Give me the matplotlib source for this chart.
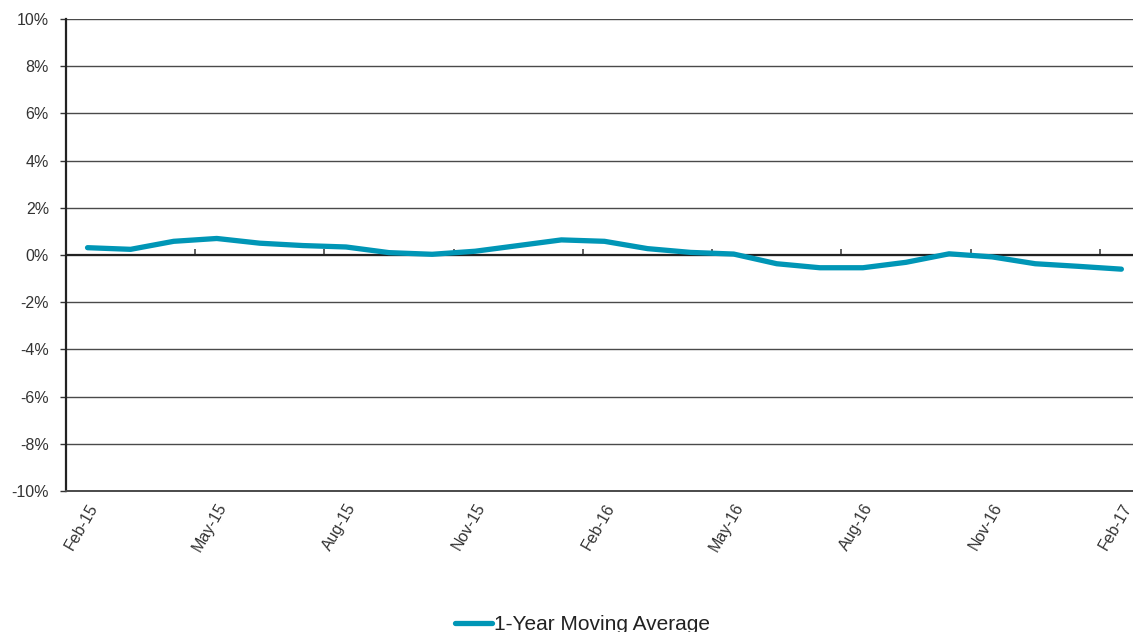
import matplotlib.pyplot as plt
from matplotlib.ticker import FuncFormatter

# monthly 1-year moving average, Feb-15 .. Feb-17 (percent)
months = ["Feb-15", "Mar-15", "Apr-15", "May-15", "Jun-15", "Jul-15", "Aug-15",
          "Sep-15", "Oct-15", "Nov-15", "Dec-15", "Jan-16", "Feb-16", "Mar-16",
          "Apr-16", "May-16", "Jun-16", "Jul-16", "Aug-16", "Sep-16", "Oct-16",
          "Nov-16", "Dec-16", "Jan-17", "Feb-17"]
moving_avg = [0.31, 0.24, 0.58, 0.70, 0.50, 0.40, 0.34, 0.10, 0.03, 0.16, 0.40,
              0.64, 0.58, 0.27, 0.11, 0.04, -0.37, -0.54, -0.54, -0.31, 0.05,
              -0.08, -0.37, -0.48, -0.60]
y_ticks = [-10, -8, -6, -4, -2, 0, 2, 4, 6, 8, 10]

plt.rcParams['font.family'] = ['Liberation Sans', 'DejaVu Sans']

fig = plt.figure(figsize=(11.33, 6.32), dpi=100)
ax = fig.add_axes([66 / 1133, 141 / 632, 1067 / 1133, 472 / 632])

x = list(range(len(months)))
ax.plot(x, moving_avg, color="#0096b6", linewidth=3.8, solid_capstyle="round",
        label="1-Year Moving Average", zorder=3)

ax.set_ylim(-10, 10)
ax.set_xlim(-0.5, 24.27)
ax.set_yticks(y_ticks)
ax.yaxis.set_major_formatter(FuncFormatter(lambda v, p: f"{v:.0f}%"))
for v in y_ticks:
    if v == 0:
        ax.axhline(v, color="#222222", linewidth=1.6, zorder=2)
    else:
        ax.axhline(v, color="#4a4a4a", linewidth=1.0, zorder=1)

# category labels every quarter, rotated
ax.set_xticks(x[::3])
ax.set_xticklabels(months[::3], rotation=60, ha="right", va="top",
                   rotation_mode="anchor", fontsize=11.5, color="#333333")
ax.tick_params(axis="x", length=0, pad=7)
ax.tick_params(axis="y", length=4.3, width=1, color="#333333", pad=8,
               labelsize=11.5, labelcolor="#333333")

# tick marks between categories on the zero line
zero_axis = ax.secondary_xaxis(0.5)
zero_axis.set_xticks([i + 2.5 for i in range(0, 24, 3)])
zero_axis.set_xticklabels([])
zero_axis.tick_params(length=4, width=1.2, color="#444444", direction="out")
zero_axis.spines["bottom"].set_visible(False)

for side in ["top", "right"]:
    ax.spines[side].set_visible(False)
ax.spines["left"].set_color("#222222")
ax.spines["left"].set_linewidth(1.6)
ax.spines["bottom"].set_color("#4a4a4a")
ax.spines["bottom"].set_linewidth(1.4)

fig.legend(loc="center", bbox_to_anchor=(0.514, 0.012), frameon=False,
           fontsize=15, handlelength=1.75, handletextpad=0.1,
           labelcolor="#222222")

fig.savefig("out.png", dpi=100)
